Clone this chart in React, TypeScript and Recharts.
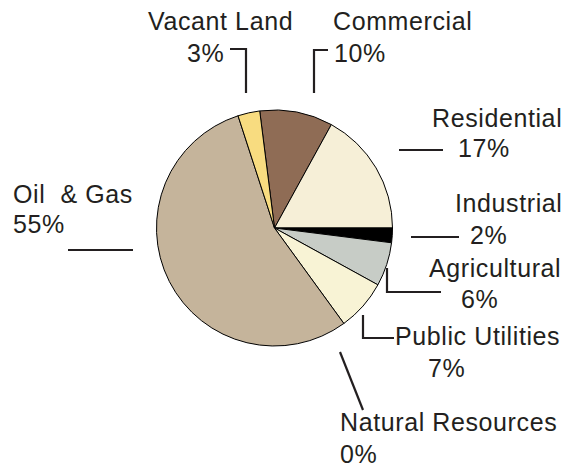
import React from "react";
import { PieChart, Pie, Cell } from "recharts";

const categories = [
  "Commercial",
  "Residential",
  "Industrial",
  "Agricultural",
  "Public Utilities",
  "Natural Resources",
  "Oil  & Gas",
  "Vacant Land",
];
const values = [10, 17, 2, 6, 7, 0, 55, 3];
const valueLabels = ["10%", "17%", "2%", "6%", "7%", "0%", "55%", "3%"];
const colors = [
  "#8F6C55",
  "#F6EFD7",
  "#000000",
  "#C7CCC6",
  "#F8F3D5",
  "#E0D5C0",
  "#C5B49B",
  "#F8DC80",
];

const data = categories.map((name, i) => ({ name, value: values[i] }));

// Label layout (page-space positions of annotation text and leader lines)
type Layout = {
  name: [number, number];
  pct: [number, number];
  line: string;
};
const layouts: Layout[] = [
  { name: [333, 30], pct: [334, 62], line: "M314,93 L314,50 L328,50" },
  { name: [432, 127], pct: [458, 157], line: "M399,150 L443,150" },
  { name: [455, 212], pct: [470, 244], line: "M411,237 L459,237" },
  { name: [429, 277], pct: [461, 308], line: "M387,268 L387,292 L441,292" },
  { name: [395, 345], pct: [428, 377], line: "M363,315 L363,338 L394,338" },
  { name: [340, 431], pct: [340, 463], line: "M340,352 L363,410" },
  { name: [13, 203], pct: [13, 233], line: "M68,250 L133,250" },
  { name: [148, 30], pct: [187, 62], line: "M230,49 L246,49 L246,93" },
];

const FONT = "'Liberation Sans', Arial, Helvetica, sans-serif";

export default function App() {
  return (
    <div style={{ position: "absolute", left: 0, top: 0 }}>
      <PieChart width={564} height={467} margin={{ top: 0, right: 0, bottom: 0, left: 0 }}>
        <Pie
          data={data}
          dataKey="value"
          nameKey="name"
          cx={274.5}
          cy={228}
          outerRadius={118}
          innerRadius={0}
          startAngle={97.2}
          endAngle={-262.8}
          stroke="#000"
          strokeWidth={1}
          isAnimationActive={false}
          labelLine={false}
        >
          {data.map((d, i) => (
            <Cell key={d.name} fill={colors[i]} />
          ))}
        </Pie>
        <g>
          {layouts.map((l, i) => (
            <g key={categories[i]}>
              <path d={l.line} fill="none" stroke="#231F20" strokeWidth={2.2} />
              <text
                x={l.name[0]}
                y={l.name[1]}
                fontFamily={FONT}
                fontSize={25}
                letterSpacing={0.6}
                fill="#231F20"
                style={{ whiteSpace: "pre" }}
              >
                {categories[i]}
              </text>
              <text
                x={l.pct[0]}
                y={l.pct[1]}
                fontFamily={FONT}
                fontSize={25}
                letterSpacing={0.6}
                fill="#231F20"
              >
                {valueLabels[i]}
              </text>
            </g>
          ))}
        </g>
      </PieChart>
    </div>
  );
}
